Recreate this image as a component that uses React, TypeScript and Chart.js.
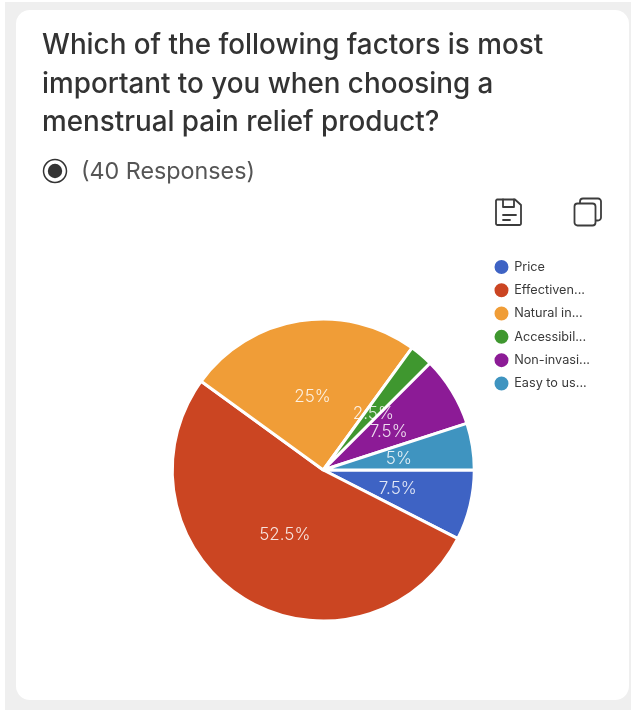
import React, { useEffect, useRef } from "react";
import { Chart, registerables } from "chart.js";

Chart.register(...registerables);

const categories = ["Price", "Effectiven...", "Natural in...", "Accessibil...", "Non-invasi...", "Easy to us..."];
const responses = [3, 21, 10, 1, 3, 2];
const sliceColors = ["#3e63c4", "#cb4522", "#f09d37", "#3f972f", "#8c1b96", "#3f94c0"];
const titleLines = ["Which of the following factors is most", "important to you when choosing a", "menstrual pain relief product?"];
const responseNote = "(40 Responses)";

const FONT = "Inter, 'Noto Sans', sans-serif";

// Writes each slice's share of the total at the middle of the slice.
const percentLabels = {
  id: "percentLabels",
  afterDatasetsDraw(chart: any) {
    const { ctx } = chart;
    const values = chart.data.datasets[0].data as number[];
    const total = values.reduce((a, b) => a + b, 0);
    ctx.save();
    ctx.font = `300 17px ${FONT}`;
    ctx.fillStyle = "rgba(255,255,255,0.85)";
    ctx.textAlign = "center";
    ctx.textBaseline = "middle";
    chart.getDatasetMeta(0).data.forEach((arc: any, i: number) => {
      const p = arc.tooltipPosition();
      ctx.fillText(`${(values[i] / total) * 100}%`, p.x + 1, p.y + 1);
    });
    ctx.restore();
  },
};

function PieCanvas() {
  const ref = useRef<HTMLCanvasElement>(null);
  useEffect(() => {
    const chart = new Chart(ref.current!, {
      type: "pie",
      data: {
        labels: categories,
        datasets: [
          {
            data: responses,
            backgroundColor: sliceColors,
            borderColor: "#ffffff",
            borderWidth: 3,
            hoverOffset: 0,
          },
        ],
      },
      options: {
        responsive: false,
        animation: false,
        rotation: 90,
        radius: 151,
        layout: { padding: { left: 162, top: 250, bottom: 20, right: 31 } },
        plugins: {
          tooltip: { enabled: false },
          legend: {
            position: "right",
            align: "start",
            labels: {
              usePointStyle: true,
              boxWidth: 12.7,
              boxHeight: 12,
              padding: 10.6,
              color: "#3a3a3a",
              font: { size: 12.7, family: FONT },
            },
          },
        },
      },
      plugins: [percentLabels],
    } as any);
    return () => chart.destroy();
  }, []);
  return <canvas ref={ref} width={631} height={710} style={{ position: "absolute", left: 0, top: 0 }} />;
}

function SaveIcon() {
  return (
    <svg width="30" height="30" viewBox="0 0 30 30" fill="none" stroke="#3c3c3c" strokeWidth="1.8" strokeLinejoin="round" strokeLinecap="round" style={{ position: "absolute", left: 494, top: 197 }}>
      <path d="M3 2.5h18l6 5.5v18.5a1.5 1.5 0 0 1-1.5 1.5h-22a1.5 1.5 0 0 1-1.5-1.5v-23a1.5 1.5 0 0 1 1.5-1z" />
      <path d="M9 2.5v7.5h11v-7.5" />
      <path d="M9 18h13M9 23h7" />
    </svg>
  );
}

function CopyIcon() {
  return (
    <svg width="30" height="30" viewBox="0 0 30 30" fill="none" stroke="#3c3c3c" strokeWidth="1.8" strokeLinejoin="round" style={{ position: "absolute", left: 573, top: 197 }}>
      <rect x="1.5" y="6.5" width="21" height="22" rx="3" />
      <path d="M7 6.5v-2a3 3 0 0 1 3-3h15a3 3 0 0 1 3 3v16a3 3 0 0 1-3 3h-2.5" />
    </svg>
  );
}

export default function App() {
  return (
    <div style={{ position: "fixed", inset: 0, background: "#ffffff", overflow: "hidden", fontFamily: FONT }}>
      <div style={{ position: "absolute", left: 5, top: 2, right: 0, bottom: 0, background: "#efefef" }} />
      <div style={{ position: "absolute", left: 16, top: 10, width: 613, height: 690, background: "#ffffff", borderRadius: 14 }} />
      <PieCanvas />
      <div style={{ position: "absolute", left: 42, top: 25, fontSize: 27.8, fontWeight: 500, lineHeight: "38.5px", color: "#333333", whiteSpace: "nowrap" }}>
        {titleLines.map((line) => (
          <div key={line}>{line}</div>
        ))}
      </div>
      <svg width="26" height="26" viewBox="0 0 26 26" style={{ position: "absolute", left: 42, top: 158 }}>
        <circle cx="13" cy="13" r="11.5" fill="none" stroke="#333333" strokeWidth="1.5" />
        <circle cx="13" cy="13" r="7.2" fill="#333333" />
      </svg>
      <div style={{ position: "absolute", left: 81, top: 155, fontSize: 23.3, lineHeight: "32px", color: "#555555", whiteSpace: "nowrap" }}>{responseNote}</div>
      <SaveIcon />
      <CopyIcon />
    </div>
  );
}
